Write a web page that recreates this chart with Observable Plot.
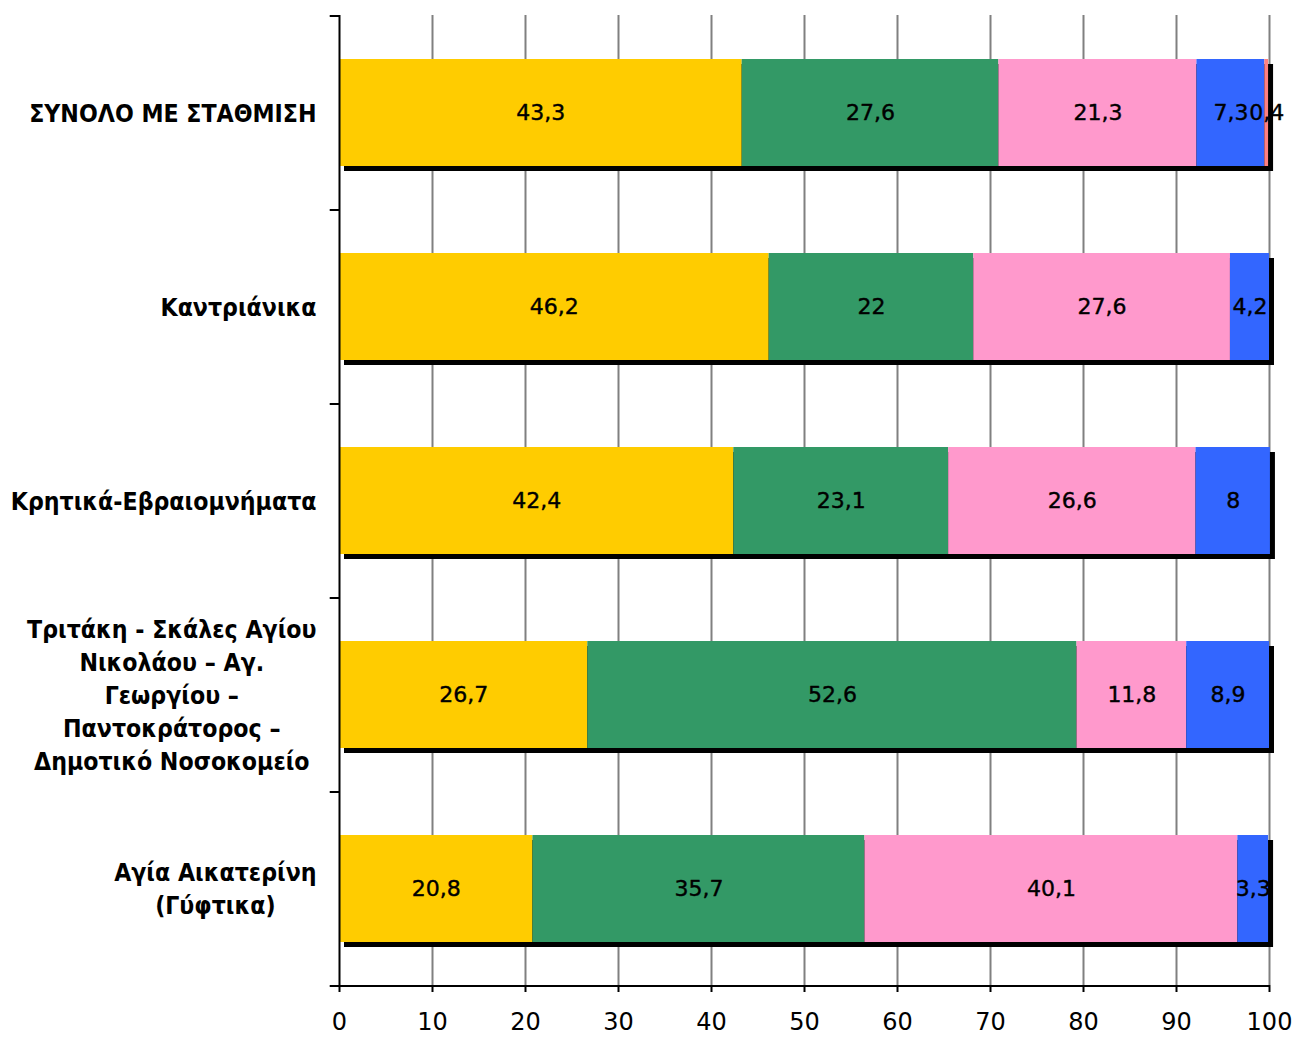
<!DOCTYPE html>
<html>
<head>
<meta charset="utf-8">
<script src="https://cdn.jsdelivr.net/npm/d3@7"></script>
<script src="https://cdn.jsdelivr.net/npm/@observablehq/plot@0.6"></script>
<style>
  html, body { margin: 0; padding: 0; background: #fff; }
  #chart { width: 1295px; height: 1037px; }
</style>
</head>
<body>
<div id="chart"></div>
<script>
// ---- data ----
const categories = [
  "ΣΥΝΟΛΟ ΜΕ ΣΤΑΘΜΙΣΗ",
  "Καντριάνικα",
  "Κρητικά-Εβραιομνήματα",
  "Τριτάκη - Σκάλες Αγίου Νικολάου – Αγ. Γεωργίου – Παντοκράτορος – Δημοτικό Νοσοκομείο",
  "Αγία Αικατερίνη (Γύφτικα)"
];
const categoryLines = [
  ["ΣΥΝΟΛΟ ΜΕ ΣΤΑΘΜΙΣΗ"],
  ["Καντριάνικα"],
  ["Κρητικά-Εβραιομνήματα"],
  ["Τριτάκη - Σκάλες Αγίου", "Νικολάου – Αγ.", "Γεωργίου –", "Παντοκράτορος –", "Δημοτικό Νοσοκομείο"],
  ["Αγία Αικατερίνη", "(Γύφτικα)"]
];
const seriesNames = ["Σειρά 1", "Σειρά 2", "Σειρά 3", "Σειρά 4", "Σειρά 5"];
const series1 = [43.3, 46.2, 42.4, 26.7, 20.8];
const series2 = [27.6, 22.0, 23.1, 52.6, 35.7];
const series3 = [21.3, 27.6, 26.6, 11.8, 40.1];
const series4 = [7.3, 4.2, 8.0, 8.9, 3.3];
const series5 = [0.4, 0, 0, 0, 0];
const xTickValues = [0, 10, 20, 30, 40, 50, 60, 70, 80, 90, 100];
const colors = ["#FFCC00", "#339966", "#FF99CC", "#3366FF", "#FF8080"];

// ---- table ----
const allSeries = [series1, series2, series3, series4, series5];
const table = [];
categories.forEach((c, i) => {
  allSeries.forEach((s, k) => {
    table.push({cat: c, series: seriesNames[k], value: s[i]});
  });
});
const totals = categories.map((c, i) => d3.sum(allSeries, s => s[i]));
const fmt = v => String(v).replace(".", ",");

// ---- layout ----
const W = 1295, H = 1037;
const mt = 15, mb = 52, ml = 339, mr = 26;
const halfStep = (H - mt - mb) / categories.length / 2;

const labelFont = '"DejaVu Sans Condensed", "DejaVu Sans", sans-serif';
const canvas = document.createElement("canvas");
const ctx = canvas.getContext("2d");
ctx.font = `bold 22px ${labelFont}`;
const refW = ctx.measureText("Κρητικά-Εβραιομνήματα").width;
const labelSize = 22 * 306 / refW;
ctx.font = `bold ${labelSize}px ${labelFont}`;
const labelRight = 316;

const yLabelMarks = categories.map((c, i) => {
  const lines = categoryLines[i];
  const maxW = d3.max(lines, l => ctx.measureText(l).width);
  const center = labelRight - maxW / 2;
  return Plot.text([c], {
    y: d => d,
    frameAnchor: "left",
    dx: -(ml - center),
    dy: -2,
    text: () => lines.join("\n"),
    textAnchor: "middle",
    lineAnchor: "middle",
    lineHeight: 33 / labelSize,
    fontSize: labelSize,
    fontWeight: "bold",
    fontFamily: labelFont,
    fill: "black"
  });
});

const chart = Plot.plot({
  width: W,
  height: H,
  marginLeft: ml,
  marginRight: mr,
  marginTop: mt,
  marginBottom: mb,
  style: {background: "white", fontFamily: '"DejaVu Sans", sans-serif', fontSize: "22px", color: "black"},
  x: {domain: [0, 100], axis: null},
  y: {domain: categories, paddingInner: 0.45, paddingOuter: 0.225, axis: null},
  color: {domain: seriesNames, range: colors},
  marks: [
    Plot.ruleX(xTickValues.slice(1), {stroke: "#808080", strokeWidth: 2}),
    Plot.barX(categories, {y: d => d, x1: 0, x2: (d, i) => totals[i], dx: 5, dy: 5, fill: "black", inset: 0}),
    Plot.barX(table, Plot.stackX({y: "cat", x: "value", fill: "series", inset: 0})),
    Plot.text(table.filter(d => d.value > 0), Plot.stackX({
      y: "cat", x: "value", z: "series",
      text: d => fmt(d.value),
      fontSize: 22, fill: "black", letterSpacing: "1.5px", stroke: "black", strokeWidth: 0.4,
      fontFamily: '"DejaVu Sans", sans-serif'
    })),
    Plot.ruleX([0], {stroke: "black", strokeWidth: 2}),
    Plot.ruleY(categories, {y: d => d, x1: -1, x2: 0, dy: -halfStep, stroke: "black", strokeWidth: 2}),
    Plot.ruleY([categories[categories.length - 1]], {y: d => d, x1: -1, x2: 100, dy: halfStep, stroke: "black", strokeWidth: 2}),
    ...yLabelMarks,
    Plot.axisX(xTickValues, {
      tickSize: 7, tickPadding: 20, fontSize: 24, strokeWidth: 2, stroke: "black",
      fill: "black", label: null, letterSpacing: "1px"
    })
  ]
});
document.getElementById("chart").appendChild(chart);
</script>
</body>
</html>
